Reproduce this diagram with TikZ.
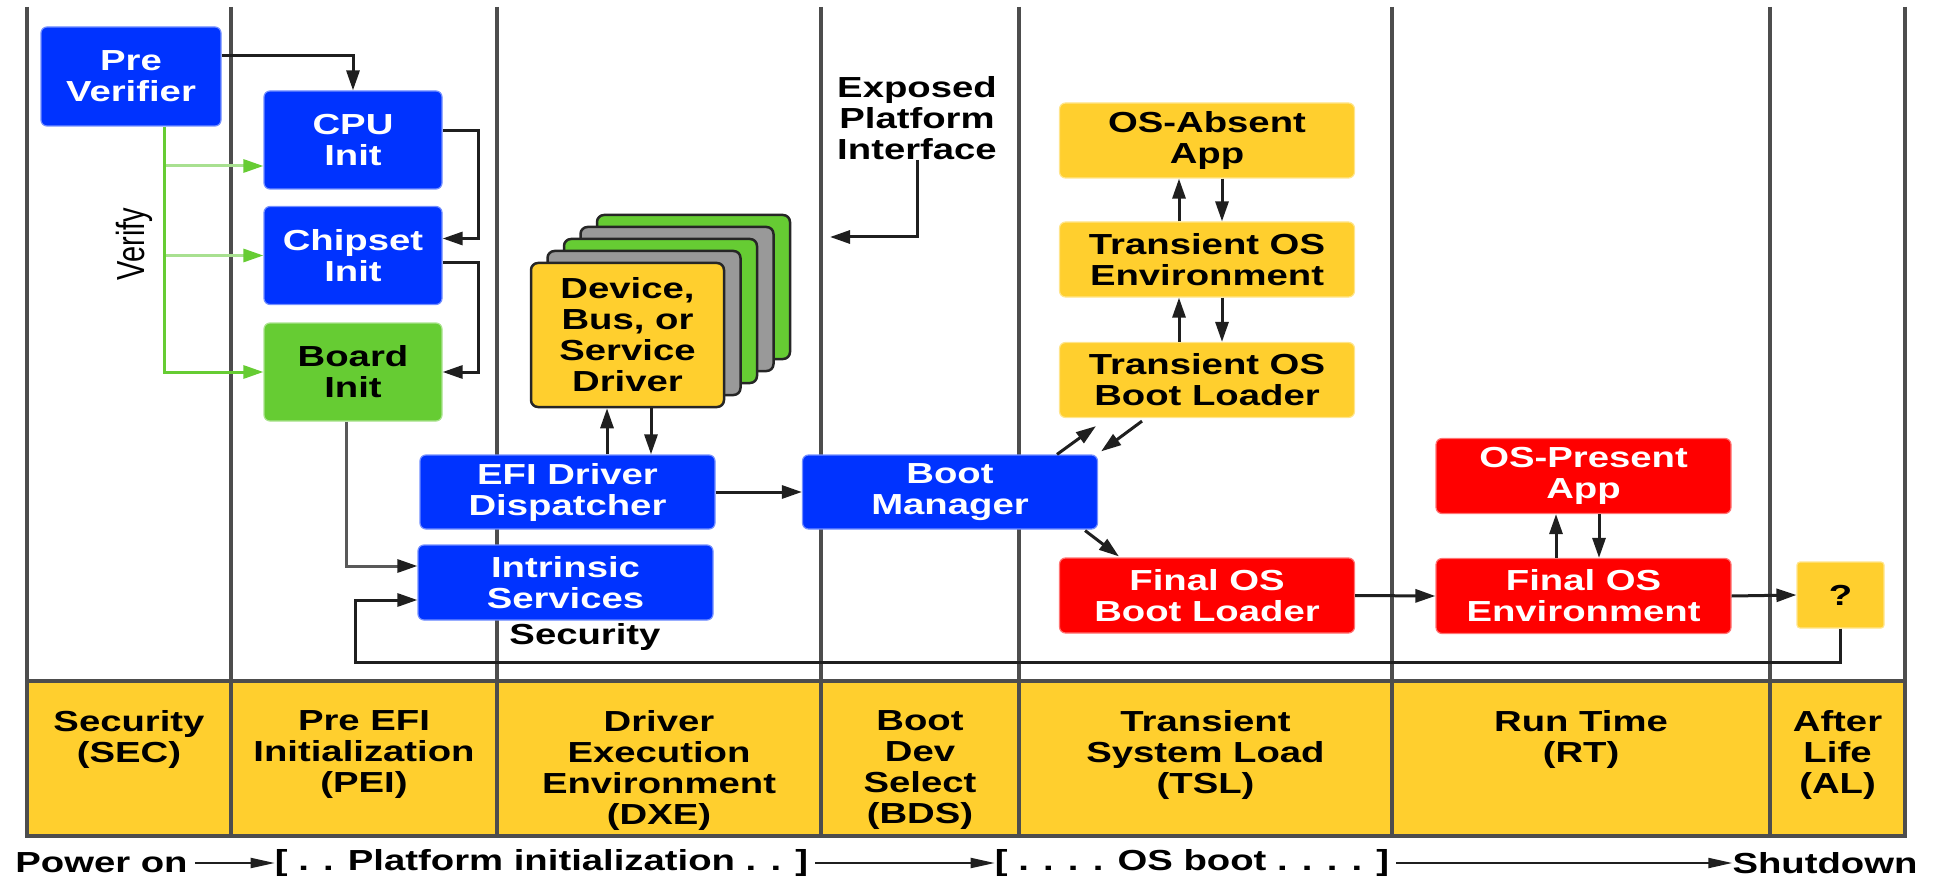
\documentclass[tikz,border=0pt]{standalone}
\usepackage{fontspec}
\setmainfont{Liberation Sans}[FakeStretch=1.32]
\newfontfamily\plainfont{Liberation Sans}
\usetikzlibrary{arrows.meta,calc}
\definecolor{efiblue}{HTML}{0033FF}
\definecolor{efigreen}{HTML}{66CC33}
\definecolor{efilgreen}{HTML}{A8E090}
\definecolor{efiyellow}{HTML}{FFCF2E}
\definecolor{efired}{HTML}{FF0000}
\definecolor{efigray}{HTML}{999999}
\definecolor{colline}{HTML}{4D4D4D}
\begin{document}
\begin{tikzpicture}[x=1pt,y=-1pt,
  every node/.style={font=\bfseries\fontsize{29}{31}\selectfont, inner sep=0pt, align=center},
  boxbase/.style={rounded corners=6pt, line width=1.2pt},
  bluebox/.style={boxbase, fill=efiblue, draw=efiblue!55!white, text=white},
  greenbox/.style={boxbase, fill=efigreen, draw=efigreen!55!white, text=black},
  yellowbox/.style={boxbase, fill=efiyellow, draw=efiyellow!55!white, text=black},
  redbox/.style={boxbase, fill=efired, draw=efired!55!white, text=white},
  smallbox/.style={minimum width=178pt, minimum height=98pt},
  widebox/.style={minimum width=295pt, minimum height=75pt},
  layer/.style={rounded corners=7pt, draw=black!85, line width=2.5pt, minimum width=193pt, minimum height=144pt},
  colln/.style={draw=colline, line width=3.5pt},
  arr/.style={draw=black!88, line width=3pt, -{Triangle[length=20pt,width=13pt]}},
  arrs/.style={draw=black!88, line width=2pt, shorten <=7pt, -{Triangle[length=24pt,width=10pt]}},
  garr/.style={draw=black!65, line width=3pt, -{Triangle[length=20pt,width=13pt,color=black!88]}},
  gline/.style={draw=efigreen, line width=3pt, -{Triangle[length=20pt,width=13pt]}},
  lgline/.style={draw=efilgreen, line width=3pt, -{Triangle[length=20pt,width=13pt,color=efigreen]}}
]
\useasboundingbox (0,0) rectangle (1937,885);
% phase band
\fill[efiyellow] (27,681) rectangle (1905,836);
% column lines
\foreach \x in {27,231,497,821,1019,1392,1770,1905}
  \draw[colln] (\x,7) -- (\x,836);
\draw[colln] (27,681) rectangle (1905,836);
% band labels
\node[anchor=north] (lsec) at (129,710) {Security\\(SEC)};
\node[anchor=north] (lpei) at (364,710) {Pre EFI\\Initialization\\(PEI)};
\node[anchor=north] (ldxe) at (659,710) {Driver\\Execution\\Environment\\(DXE)};
\node[anchor=north] (lbds) at (920,710) {Boot\\Dev\\Select\\(BDS)};
\node[anchor=north] (ltsl) at (1205.5,710) {Transient\\System Load\\(TSL)};
\node[anchor=north] (lrt) at (1581,710) {Run Time\\(RT)};
\node[anchor=north] (lal) at (1837.5,710) {After\\Life\\(AL)};
% SEC / PEI
\node[bluebox, minimum width=180pt, minimum height=99pt] (prever) at (131,76.5) {Pre\\Verifier};
\node[bluebox, smallbox] (cpu) at (353,140) {CPU\\Init};
\node[bluebox, smallbox] (chip) at (353,255.5) {Chipset\\Init};
\node[greenbox, smallbox] (board) at (353,372) {Board\\Init};
\node[rotate=90, yscale=1.35, font=\plainfont\fontsize{29}{31}\selectfont] (verify) at (134,244) {Verify};
% DXE driver stack
\foreach \k/\c in {4/efigreen,3/efigray,2/efigreen,1/efigray}
  \node[layer, fill=\c] (layer\k) at ({627.5+16.5*\k},{335-12*\k}) {};
\node[layer, fill=efiyellow] (driver) at (627.5,335) {Device,\\Bus, or\\Service\\Driver};
\node[bluebox, widebox, minimum height=74pt] (efi) at (567.5,492) {EFI Driver\\Dispatcher};
\node[bluebox, widebox] (intr) at (565.5,582.5) {Intrinsic\\Services};
\node (sec) at (585,637) {Security};
% BDS
\node[bluebox, widebox, minimum height=74pt] (bootmgr) at (950,492) {Boot\\Manager};
\node (expose) at (917,118) {Exposed\\Platform\\Interface};
\coordinate (epi) at (830,237);
% TSL
\node[yellowbox, widebox] (osabsent) at (1207,140.5) {OS-Absent\\App};
\node[yellowbox, widebox] (tosenv) at (1207,259.5) {Transient OS\\Environment};
\node[yellowbox, widebox] (tosbl) at (1207,380) {Transient OS\\Boot Loader};
\node[redbox, widebox] (fosbl) at (1207,595.5) {Final OS\\Boot Loader};
% RT
\node[redbox, widebox] (ospres) at (1583.5,476) {OS-Present\\App};
\node[redbox, widebox] (fosenv) at (1583.5,596) {Final OS\\Environment};
% AL
\node[yellowbox, rounded corners=3pt, minimum width=87pt, minimum height=66pt] (q) at (1840.5,595) {?};
% bottom timeline
\node (pwr) at (101.5,863) {Power on};
\node (pinit) at (541.5,863) {[ . . Platform initialization . . ]};
\node (osb) at (1192,863) {[ . . . . OS boot . . . . ]};
\node (shut) at (1825,863) {Shutdown};
\draw[arrs] (pwr) -- (pinit);
\draw[arrs] (pinit) -- (osb);
\draw[arrs] (osb) -- (shut);
% connectors SEC/PEI
\draw[arr] ($(prever.north east)+(0,29)$) -| (cpu.north);
\draw[arr] ($(cpu.east)+(0,-9)$) -- ++(36,0) |- ($(chip.east)+(0,-17)$);
\draw[arr] ($(chip.east)+(0,7.5)$) -- ++(36,0) |- (board.east);
\coordinate (vtop) at ($(prever.south)+(33,0)$);
\coordinate (cpuin) at ($(cpu.west)+(0,26)$);
\draw[lgline] (vtop |- cpuin) -- (cpuin);
\draw[lgline] (vtop |- chip.west) -- (chip.west);
\draw[gline] (vtop) |- (board.west);
\draw[garr] ($(board.south)+(-7,0)$) |- ($(intr.west)+(0,-16.5)$);
% security loop
\coordinate (lp) at (355,662);
\draw[arr] (q.south) |- (lp) |- ($(intr.west)+(0,17.5)$);
% DXE
\draw[arr] ($(efi.north)+(39.5,0)$) -- ($(driver.south)+(-20.5,0)$);
\draw[arr] ($(driver.south)+(23.5,0)$) -- ($(efi.north)+(83.5,0)$);
\draw[arr] (efi.east) -- (bootmgr.west);
\draw[arr] (expose.south) |- (epi);
% TSL
\draw[arr] ($(tosenv.north)+(-28,0)$) -- ($(osabsent.south)+(-28,0)$);
\draw[arr] ($(osabsent.south)+(15,0)$) -- ($(tosenv.north)+(15,0)$);
\draw[arr] ($(tosbl.north)+(-28,0)$) -- ($(tosenv.south)+(-28,0)$);
\draw[arr] ($(tosenv.south)+(15,0)$) -- ($(tosbl.north)+(15,0)$);
\draw[arr] ($(bootmgr.north)+(107,0)$) -- ($(tosbl.south)+(-111,8)$);
\draw[arr] ($(tosbl.south)+(-65,3)$) -- ($(bootmgr.north east)+(3,-3)$);
\draw[arr] ($(bootmgr.south east)+(-13,1)$) -- ($(fosbl.north west)+(60,-1)$);
\draw[arr] (fosbl.east) -- (fosenv.west);
% RT
\draw[arr] ($(fosenv.north)+(-27.5,0)$) -- ($(ospres.south)+(-27.5,0)$);
\draw[arr] ($(ospres.south)+(15.5,0)$) -- ($(fosenv.north)+(15.5,0)$);
\draw[arr] (fosenv.east) -- (q.west);
\end{tikzpicture}
\end{document}
